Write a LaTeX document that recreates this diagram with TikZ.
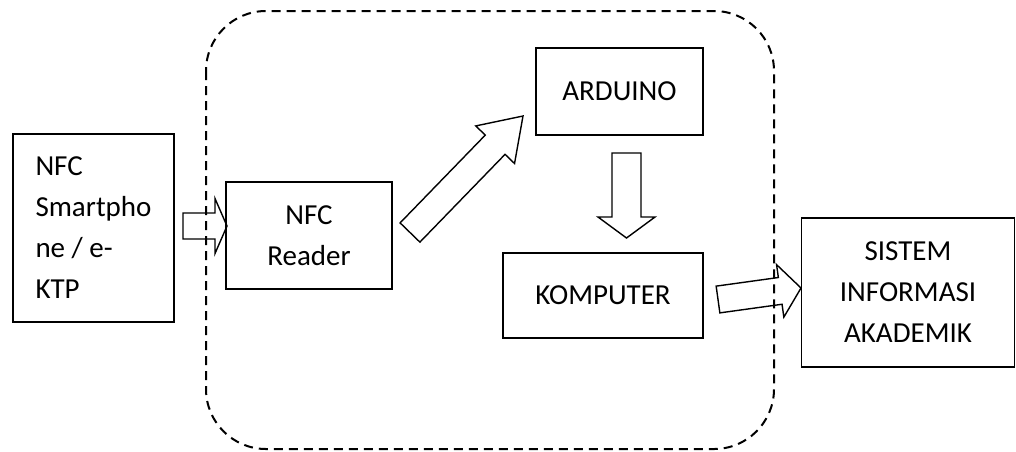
\documentclass[tikz,border=0pt]{standalone}
\usepackage{fontspec}
\setmainfont{Carlito}
\usetikzlibrary{calc}
\tikzset{
  blk/.style={draw=black, line width=1.5pt, rectangle, inner sep=0pt,
    font={\fontsize{29}{41}\selectfont}, text=black},
  barrow/.style={draw=black, line width=1.4pt, line join=miter},
  groupbox/.style={draw=black, line width=2pt, dash pattern=on 9pt off 6pt, rounded corners=60pt}
}
% #1 tail, #2 tip, #3 half shaft width, #4 half head width, #5 head length
\newcommand\blockarrow[5]{%
  \coordinate (hb) at ($(#2)!#5!(#1)$);
  \draw[barrow]
    ($(#1)!#3!90:(#2)$) -- ($(hb)!#3!90:(#2)$) -- ($(hb)!#4!90:(#2)$) -- (#2)
    -- ($(hb)!#4!-90:(#2)$) -- ($(hb)!#3!-90:(#2)$) -- ($(#1)!#3!-90:(#2)$) -- cycle;
}
\begin{document}
\begin{tikzpicture}[x=1pt,y=-1pt]
\useasboundingbox (0,0) rectangle (1016,451);
% group boundary
\draw[groupbox] (206,11) rectangle (774,449);
% blocks
\node[blk, minimum width=161, minimum height=188, align=left] (phone) at (93.5,228)
  {NFC\\Smartpho\\ne / e-\\KTP};
\node[blk, minimum width=166, minimum height=107, align=center] (reader) at (309,235.5)
  {NFC\\Reader};
\node[blk, minimum width=167, minimum height=87] (arduino) at (619.5,91.5) {ARDUINO};
\node[blk, minimum width=200, minimum height=85] (komputer) at (603,295.5) {KOMPUTER};
\node[blk, minimum width=213, minimum height=149, align=center] (sia) at (908,292.5)
  {SISTEM\\INFORMASI\\AKADEMIK};
% arrow ends
\coordinate (a1s) at (183,226);
\coordinate (a1e) at (227,226);
\coordinate (a2s) at (410,232.5);
\coordinate (a2e) at (523,116);
\coordinate (a3s) at (626.5,153);
\coordinate (a3e) at (626.5,238);
\coordinate (a4s) at (718,299.5);
\coordinate (a4e) at (801,288);
% block arrows
\blockarrow{a1s}{a1e}{13pt}{27.5pt}{12pt}
\blockarrow{a2s}{a2e}{13.8pt}{27pt}{40pt}
\blockarrow{a3s}{a3e}{14.5pt}{28.5pt}{21pt}
\blockarrow{a4s}{a4e}{13.5pt}{26.5pt}{21pt}
\end{tikzpicture}
\end{document}
